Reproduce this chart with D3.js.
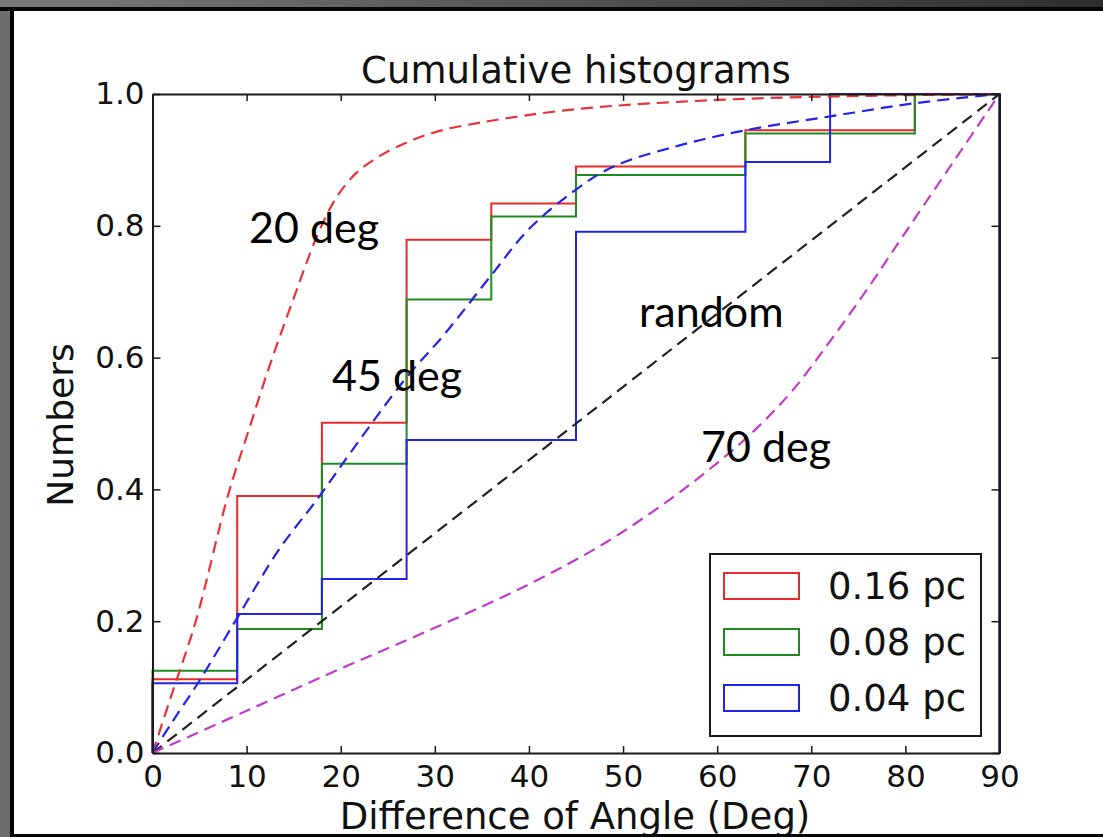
<!DOCTYPE html>
<html>
<head>
<meta charset="utf-8">
<script src="https://cdn.jsdelivr.net/npm/d3@7"></script>
<style>
  body { margin: 0; background: #6d6d6d; }
  svg { display: block; }
</style>
</head>
<body>
<script>
// Bin edges of the cumulative histograms (degrees).
const binEdges = [0, 9, 18, 27, 36, 45, 54, 63, 72, 81, 90];

// Cumulative fractions per bin.
const cum016 = [0.112, 0.390, 0.501, 0.779, 0.834, 0.890, 0.890, 0.945, 0.945, 1.0];
const cum008 = [0.125, 0.188, 0.439, 0.688, 0.814, 0.877, 0.877, 0.940, 0.940, 1.0];
const cum004 = [0.106, 0.211, 0.264, 0.475, 0.475, 0.791, 0.791, 0.897, 1.0, 1.0];

const seriesNames = ["0.16 pc", "0.08 pc", "0.04 pc"];

// Model curves: [angle, cumulative fraction].
const model20 = [[0, 0], [2.3, 0.10], [4.6, 0.20], [8, 0.39], [10, 0.48], [12.5, 0.59], [15, 0.69],
  [17.5, 0.785], [19.5, 0.842], [21.5, 0.878], [23.5, 0.90], [26, 0.92], [30, 0.942], [35, 0.957],
  [45, 0.977], [60, 0.991], [75, 0.997], [90, 1]];
const model45 = [[0, 0], [2, 0.045], [5, 0.11], [9, 0.205], [13.5, 0.31], [17.5, 0.385], [21.5, 0.465],
  [27, 0.57], [31, 0.635], [36, 0.725], [40, 0.795], [45, 0.855], [49, 0.89], [56, 0.922],
  [63, 0.945], [72, 0.966], [81, 0.986], [90, 1]];
const modelRandom = [[0, 0], [45, 0.5], [90, 1]];
const model70 = [[0, 0], [10, 0.064], [20, 0.128], [30, 0.19], [40, 0.256], [48, 0.318], [55, 0.385],
  [60, 0.44], [64, 0.49], [68, 0.55], [72, 0.625], [76, 0.705], [80, 0.79], [85, 0.895], [90, 1]];

const xTicks = [0, 10, 20, 30, 40, 50, 60, 70, 80, 90];
const yTicks = [0, 0.2, 0.4, 0.6, 0.8, 1.0];

const W = 1103, H = 837;
const stepColors = ["#ea2a2a", "#1f8c1f", "#2323ee"];
const tickFont = "DejaVu Sans";

const svg = d3.select("body").append("svg")
  .attr("width", W)
  .attr("height", H);

// Slide-like frame around the figure.
const defs = svg.append("defs");
const grad = defs.append("linearGradient").attr("id", "topband");
grad.append("stop").attr("offset", "0").attr("stop-color", "#7a7a7a");
grad.append("stop").attr("offset", "1").attr("stop-color", "#2e2e2e");

svg.append("rect").attr("width", W).attr("height", H).attr("fill", "#6d6d6d");
svg.append("rect").attr("width", W).attr("height", 8).attr("fill", "url(#topband)");
svg.append("rect").attr("x", 14).attr("y", 11).attr("width", W - 14).attr("height", 823)
  .attr("fill", "#fff");

const x = d3.scaleLinear().domain([0, 90]).range([152.5, 999.5]);
const y = d3.scaleLinear().domain([0, 1]).range([753, 94]);

const plot = svg.append("g");

// Step outlines of the cumulative histograms.
function stepPoints(vals) {
  let pts = [[0, 0]];
  vals.forEach((v, i) => {
    pts.push([binEdges[i], v]);
    pts.push([binEdges[i + 1], v]);
  });
  pts.push([90, 0]);
  return pts;
}

const line = d3.line()
  .x(d => x(d[0]))
  .y(d => y(d[1]));

[cum016, cum008, cum004].forEach((vals, i) => {
  plot.append("path")
    .attr("d", line(stepPoints(vals)))
    .attr("fill", "none")
    .attr("stroke", stepColors[i])
    .attr("stroke-width", 2);
});

// Dashed model curves.
const smooth = d3.line()
  .x(d => x(d[0]))
  .y(d => y(d[1]))
  .curve(d3.curveCatmullRom.alpha(0.5));

const models = [
  { data: model20, color: "#e8323a" },
  { data: model45, color: "#2424e6" },
  { data: modelRandom, color: "#222" },
  { data: model70, color: "#c03cc8" }
];

models.forEach(m => {
  plot.append("path")
    .attr("d", smooth(m.data))
    .attr("fill", "none")
    .attr("stroke", m.color)
    .attr("stroke-width", 2.2)
    .attr("stroke-dasharray", "12,7");
});

// Axes: ticks pointing inward on all four sides.
function styleAxis(g) {
  g.select(".domain").attr("stroke", "#1a1a1a").attr("stroke-width", 2);
  g.selectAll(".tick line").attr("stroke", "#1a1a1a").attr("stroke-width", 1.5);
  g.selectAll("text")
    .attr("fill", "#111")
    .style("font-family", tickFont)
    .style("font-size", "31px");
}

svg.append("g")
  .attr("transform", "translate(0," + y(0) + ")")
  .call(d3.axisBottom(x).tickValues(xTicks).tickSize(-7).tickSizeOuter(0).tickPadding(12))
  .call(styleAxis);

svg.append("g")
  .attr("transform", "translate(0," + y(1) + ")")
  .call(d3.axisTop(x).tickValues(xTicks).tickSize(-7).tickSizeOuter(0).tickFormat(""))
  .call(styleAxis);

svg.append("g")
  .attr("transform", "translate(" + x(0) + ",0)")
  .call(d3.axisLeft(y).tickValues(yTicks).tickSize(-8).tickSizeOuter(0).tickPadding(8)
    .tickFormat(d3.format(".1f")))
  .call(styleAxis);

svg.append("g")
  .attr("transform", "translate(" + x(90) + ",0)")
  .call(d3.axisRight(y).tickValues(yTicks).tickSize(-8).tickSizeOuter(0).tickFormat(""))
  .call(styleAxis);

// Title and axis labels.
svg.append("text")
  .attr("x", 576).attr("y", 83)
  .attr("text-anchor", "middle")
  .style("font-family", tickFont).style("font-size", "37px")
  .attr("fill", "#111")
  .text("Cumulative histograms");

svg.append("text")
  .attr("x", 575).attr("y", 829)
  .attr("text-anchor", "middle")
  .style("font-family", tickFont).style("font-size", "37px")
  .attr("fill", "#111")
  .text("Difference of Angle (Deg)");

svg.append("text")
  .attr("transform", "translate(73,425) rotate(-90)")
  .attr("text-anchor", "middle")
  .style("font-family", tickFont).style("font-size", "36px")
  .attr("fill", "#111")
  .text("Numbers");

// Hand-placed annotations.
const notes = [
  { text: "20 deg", x: 249, y: 243 },
  { text: "45 deg", x: 332, y: 391 },
  { text: "random", x: 639, y: 327 },
  { text: "70 deg", x: 701, y: 462 }
];
svg.selectAll(".note").data(notes).enter().append("text")
  .attr("class", "note")
  .attr("x", d => d.x).attr("y", d => d.y)
  .style("font-family", "Lato").style("font-size", "43px")
  .attr("fill", "#000")
  .text(d => d.text);

// Legend.
const legend = svg.append("g").attr("transform", "translate(710,554)");
legend.append("rect")
  .attr("width", 271).attr("height", 182)
  .attr("fill", "#fff").attr("stroke", "#1a1a1a").attr("stroke-width", 2);
seriesNames.forEach((name, i) => {
  legend.append("rect")
    .attr("x", 14).attr("y", 19 + i * 56)
    .attr("width", 75).attr("height", 26)
    .attr("fill", "none").attr("stroke", stepColors[i]).attr("stroke-width", 2);
  legend.append("text")
    .attr("x", 118).attr("y", 45 + i * 56)
    .style("font-family", tickFont).style("font-size", "37px")
    .attr("fill", "#111")
    .text(name);
});

// Black frame edges drawn last so they cover overflowing text.
svg.append("rect").attr("x", 0).attr("y", 7).attr("width", W).attr("height", 4).attr("fill", "#050505");
svg.append("rect").attr("x", 10).attr("y", 7).attr("width", 4).attr("height", H).attr("fill", "#050505");
svg.append("rect").attr("x", 10).attr("y", 834).attr("width", W).attr("height", 3).attr("fill", "#050505");
</script>
</body>
</html>
